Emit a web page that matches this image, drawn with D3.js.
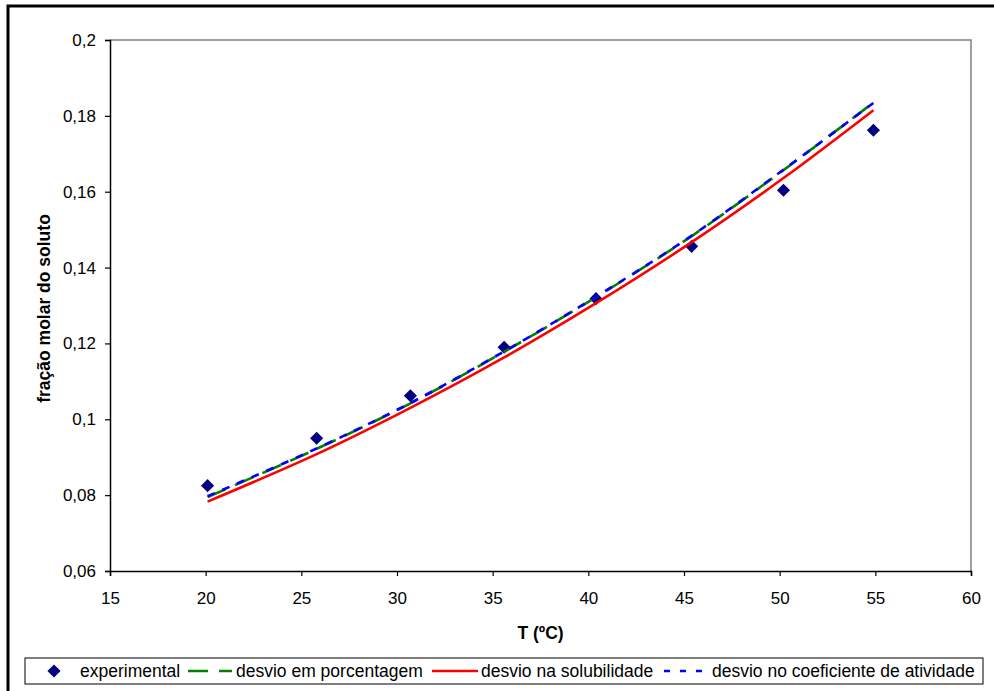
<!DOCTYPE html>
<html>
<head>
<meta charset="utf-8">
<script src="https://cdn.jsdelivr.net/npm/d3@7"></script>
<style>
  html, body { margin: 0; padding: 0; background: #fff; }
  svg { display: block; font-family: "Liberation Sans", Arial, sans-serif; }
</style>
</head>
<body>
<svg id="chart" width="994" height="691"></svg>
<script>
// Temperature (ºC) of each measurement
const tempC = [20.1, 25.8, 30.7, 35.6, 40.4, 45.4, 50.2, 54.9];
// Measured solute mole fraction
const experimental = [0.0825, 0.0950, 0.1062, 0.1190, 0.1318, 0.1456, 0.1604, 0.1762];
// Model fits
const desvioPorcentagem = [0.0795, 0.0922, 0.1042, 0.1178, 0.1322, 0.1483, 0.1657, 0.1835];
const desvioSolubilidade = [0.0783, 0.0908, 0.1030, 0.1163, 0.1306, 0.1467, 0.1636, 0.1815];
const desvioCoeficiente = [0.0797, 0.0923, 0.1043, 0.1179, 0.1323, 0.1484, 0.1658, 0.1834];

const xTicks = [15, 20, 25, 30, 35, 40, 45, 50, 55, 60];
const yTicks = [0.06, 0.08, 0.10, 0.12, 0.14, 0.16, 0.18, 0.20];

const seriesNames = ["experimental", "desvio em porcentagem", "desvio na solubilidade", "desvio no coeficiente de atividade"];

const svg = d3.select("#chart");
const plot = { left: 110, top: 40, right: 971, bottom: 571 };

const x = d3.scaleLinear().domain([15, 60]).range([plot.left, plot.right]);
const y = d3.scaleLinear().domain([0.06, 0.2]).range([plot.bottom, plot.top]);

const fmt = v => d3.format("")(+v.toFixed(2)).replace(".", ",");

// outer frame (extends past the visible page on right/bottom)
svg.append("rect")
  .attr("x", 8).attr("y", 6).attr("width", 1000).attr("height", 700)
  .attr("fill", "none").attr("stroke", "#000").attr("stroke-width", 3);

// plot area border: top & right in grey
svg.append("path")
  .attr("d", `M${plot.left},${plot.top}H${plot.right}V${plot.bottom}`)
  .attr("fill", "none").attr("stroke", "#808080").attr("stroke-width", 1.5);

// axes
const xAxis = d3.axisBottom(x).tickValues(xTicks).tickSize(5).tickPadding(16).tickFormat(d => d);
const yAxis = d3.axisLeft(y).tickValues(yTicks).tickSize(5).tickPadding(9).tickFormat(fmt);

const gx = svg.append("g").attr("transform", `translate(0,${plot.bottom})`).call(xAxis);
const gy = svg.append("g").attr("transform", `translate(${plot.left},0)`).call(yAxis);
[gx, gy].forEach(g => {
  g.select(".domain").attr("stroke", "#000").attr("stroke-width", 1.5);
  g.selectAll(".tick line").attr("stroke", "#000").attr("stroke-width", 1.2);
  g.selectAll(".tick text").attr("font-size", 17).attr("fill", "#000")
    .attr("font-family", "Liberation Sans, Arial, sans-serif");
});

// axis titles
svg.append("text")
  .attr("x", (plot.left + plot.right) / 2).attr("y", 639)
  .attr("text-anchor", "middle").attr("font-size", 17.5).attr("font-weight", "bold")
  .text("T (ºC)");
svg.append("text")
  .attr("transform", `translate(50,${(plot.top + plot.bottom) / 2 + 3}) rotate(-90)`)
  .attr("text-anchor", "middle").attr("font-size", 17.5).attr("font-weight", "bold")
  .text("fração molar do soluto");

const line = d3.line().x(d => x(d[0])).y(d => y(d[1])).curve(d3.curveCatmullRom.alpha(0.5));
const zipT = vals => tempC.map((t, i) => [t, vals[i]]);

const diamond = d3.symbol().type(d3.symbolDiamond2).size(110);

// experimental points
svg.append("g").selectAll("path")
  .data(zipT(experimental))
  .join("path")
  .attr("transform", d => `translate(${x(d[0])},${y(d[1])})`)
  .attr("d", diamond)
  .attr("fill", "#000080");

// fitted curves
svg.append("path").datum(zipT(desvioPorcentagem))
  .attr("d", line).attr("fill", "none")
  .attr("stroke", "#008000").attr("stroke-width", 2.6).attr("stroke-dasharray", "20,10");
svg.append("path").datum(zipT(desvioSolubilidade))
  .attr("d", line).attr("fill", "none")
  .attr("stroke", "#FF0000").attr("stroke-width", 2.6);
svg.append("path").datum(zipT(desvioCoeficiente))
  .attr("d", line).attr("fill", "none")
  .attr("stroke", "#0000FF").attr("stroke-width", 2.6).attr("stroke-dasharray", "8,8");

// legend
const lg = svg.append("g");
lg.append("rect").attr("x", 25).attr("y", 658).attr("width", 958).attr("height", 26)
  .attr("fill", "#fff").attr("stroke", "#000").attr("stroke-width", 1);
const ly = 671;
lg.append("path").attr("transform", `translate(54,${ly})`).attr("d", diamond).attr("fill", "#000080");
lg.append("line").attr("x1", 188).attr("x2", 232).attr("y1", ly).attr("y2", ly)
  .attr("stroke", "#008000").attr("stroke-width", 2.6).attr("stroke-dasharray", "20,11");
lg.append("line").attr("x1", 432).attr("x2", 478).attr("y1", ly).attr("y2", ly)
  .attr("stroke", "#FF0000").attr("stroke-width", 2.6);
lg.append("line").attr("x1", 664).attr("x2", 704).attr("y1", ly).attr("y2", ly)
  .attr("stroke", "#0000FF").attr("stroke-width", 2.6).attr("stroke-dasharray", "6,10");
const textX = [80, 236, 481, 712];
lg.selectAll("text.leg").data(seriesNames).join("text")
  .attr("class", "leg")
  .attr("x", (d, i) => textX[i]).attr("y", ly + 6)
  .attr("font-size", 17.5).attr("fill", "#000")
  .text(d => d);
</script>
</body>
</html>
